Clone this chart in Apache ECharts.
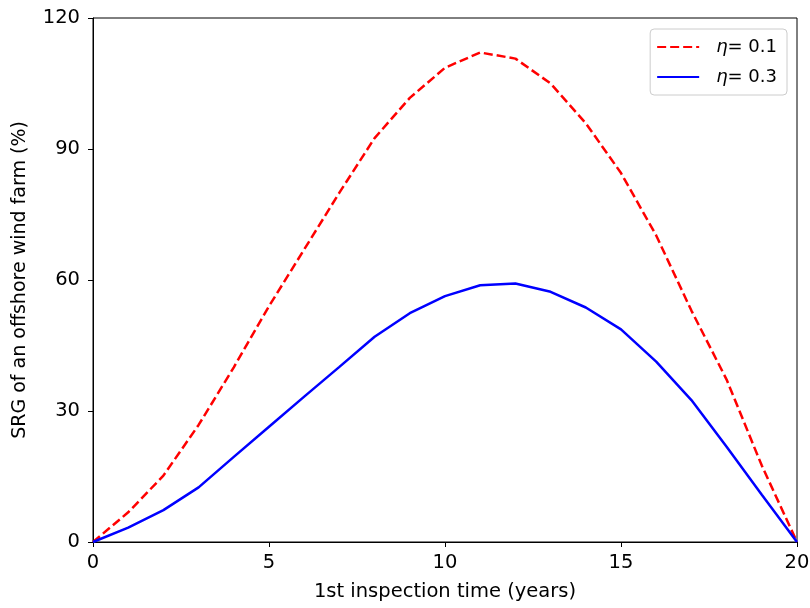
<!DOCTYPE html>
<html>
<head>
<meta charset="utf-8">
<script src="https://cdn.jsdelivr.net/npm/echarts@6/dist/echarts.min.js"></script>
<style>html,body{margin:0;padding:0;background:#fff;}#c{width:810px;height:608px;}</style>
</head>
<body>
<div id="c"></div>
<script>
const years = [0,1,2,3,4,5,6,7,8,9,10,11,12,13,14,15,16,17,18,19,20];
const eta01 = [0,6.8,15.2,26.8,40,54,67,80,92.5,101.7,108.6,112.1,110.7,105,95.9,84.5,70.2,53,37.2,17.5,0];
const eta03 = [0,3.3,7.3,12.5,19.5,26.4,33.3,40.1,47,52.4,56.3,58.8,59.2,57.3,53.7,48.7,41.3,32.5,21.8,10.8,0];
const xTicks = [0,5,10,15,20];
const yTicks = [0,30,60,90,120];
const seriesNames = ['η= 0.1','η= 0.3'];

const chart = echarts.init(document.getElementById('c'), null, {renderer:'canvas'});
const font = 'DejaVu Sans';
const axisCommon = {
  axisLine:{show:true,onZero:false,lineStyle:{color:'#000',width:1}},
  axisTick:{show:true,inside:false,length:5,lineStyle:{color:'#000'}},
  splitLine:{show:false}
};
chart.setOption({
  animation:false,
  backgroundColor:'#fff',
  grid:{left:93,right:13,top:18,bottom:66,show:true,borderColor:'#000',borderWidth:1,backgroundColor:'transparent',
        containLabel:false, outerBoundsMode:'none'},
  legend:{
    right:23, top:29,
    orient:'vertical',
    itemWidth:42, itemHeight:14, itemGap:12,
    padding:[9,10,9,6],
    borderColor:'#ccc', borderWidth:1, borderRadius:4,
    backgroundColor:'#fff',
    itemStyle:{opacity:0},
    data:seriesNames,
    formatter:function(n){ return '{i|η}{t|' + n.slice(1) + '}'; },
    textStyle:{fontFamily:font,fontSize:18,color:'#000',
      rich:{i:{fontFamily:font,fontSize:18,fontStyle:'italic',color:'#000',padding:[0,0,0,12]},t:{fontFamily:font,fontSize:18,color:'#000'}}}
  },
  xAxis:Object.assign({
    type:'value', min:0, max:20, interval:5,
    name:'1st inspection time (years)', nameLocation:'middle', nameGap:40,
    nameTextStyle:{fontFamily:font,fontSize:19.5,color:'#000'},
    axisLabel:{fontFamily:font,fontSize:19.5,color:'#000',margin:11,
      formatter:function(v){return xTicks.indexOf(v)>=0?String(v):'';}}
  },axisCommon),
  yAxis:Object.assign({
    type:'value', min:0, max:120, interval:30,
    name:'SRG of an offshore wind farm (%)', nameLocation:'middle', nameGap:63,
    nameTextStyle:{fontFamily:font,fontSize:19,color:'#000'},
    axisLabel:{fontFamily:font,fontSize:19.5,color:'#000',margin:13,
      formatter:function(v){return yTicks.indexOf(v)>=0?String(v):'';}}
  },axisCommon),
  series:[
    {name:seriesNames[0], type:'line', data:years.map((x,i)=>[x,eta01[i]]),
      symbol:'none', lineStyle:{color:'#ff0000',width:2.5,type:[9,4]}, itemStyle:{color:'#ff0000'}},
    {name:seriesNames[1], type:'line', data:years.map((x,i)=>[x,eta03[i]]),
      symbol:'none', lineStyle:{color:'#0000ff',width:2.5,type:'solid'}, itemStyle:{color:'#0000ff'}}
  ]
});
</script>
</body>
</html>
